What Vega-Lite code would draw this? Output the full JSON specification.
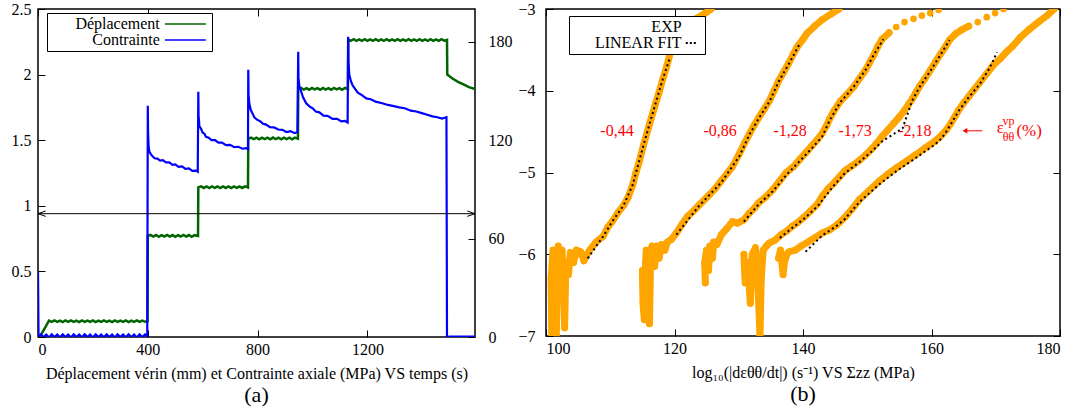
{
  "$schema": "https://vega.github.io/schema/vega-lite/v6.json",
  "padding": {"left": 10, "top": 0, "right": 5, "bottom": 0},
  "spacing": 4,
  "background": "white",
  "resolve": {"scale": {"color": "independent"}, "legend": {"color": "independent"}},
  "config": {
    "font": "Liberation Serif",
    "view": {"stroke": "black", "strokeWidth": 1.5},
    "axis": {
      "labelFont": "Liberation Serif", "labelFontSize": 16, "labelColor": "black",
      "titleFont": "Liberation Serif", "titleFontSize": 16, "titleFontWeight": "normal", "titleColor": "black",
      "domain": false, "grid": false, "tickColor": "black", "tickSize": -7, "tickWidth": 1, "labelPadding": 14
    },
    "axisBottom": {"labelPadding": 11},
    "axisTop": {"labelPadding": 11},
    "legend": {"labelFont": "Liberation Serif", "labelFontSize": 16, "labelColor": "black"},
    "title": {"font": "Liberation Serif", "fontSize": 22, "fontWeight": "normal", "color": "black", "orient": "bottom", "offset": 4}
  },
  "datasets": {
    "disp": [
      {"t":0,"d":0,"s":"Déplacement"},{"t":8,"d":0.005,"s":"Déplacement"},{"t":40,"d":0.125,"s":"Déplacement"},
      {"t":50,"d":0.116,"s":"Déplacement"},{"t":60,"d":0.126,"s":"Déplacement"},{"t":70,"d":0.115,"s":"Déplacement"},{"t":80,"d":0.125,"s":"Déplacement"},{"t":90,"d":0.114,"s":"Déplacement"},{"t":100,"d":0.126,"s":"Déplacement"},{"t":110,"d":0.116,"s":"Déplacement"},{"t":120,"d":0.127,"s":"Déplacement"},{"t":130,"d":0.115,"s":"Déplacement"},{"t":140,"d":0.125,"s":"Déplacement"},{"t":150,"d":0.114,"s":"Déplacement"},{"t":160,"d":0.126,"s":"Déplacement"},{"t":170,"d":0.116,"s":"Déplacement"},{"t":180,"d":0.125,"s":"Déplacement"},{"t":190,"d":0.115,"s":"Déplacement"},{"t":200,"d":0.127,"s":"Déplacement"},{"t":210,"d":0.114,"s":"Déplacement"},{"t":220,"d":0.125,"s":"Déplacement"},{"t":230,"d":0.116,"s":"Déplacement"},{"t":240,"d":0.126,"s":"Déplacement"},{"t":250,"d":0.115,"s":"Déplacement"},{"t":260,"d":0.125,"s":"Déplacement"},{"t":270,"d":0.114,"s":"Déplacement"},{"t":280,"d":0.127,"s":"Déplacement"},{"t":290,"d":0.116,"s":"Déplacement"},{"t":300,"d":0.125,"s":"Déplacement"},{"t":310,"d":0.115,"s":"Déplacement"},{"t":320,"d":0.126,"s":"Déplacement"},{"t":330,"d":0.114,"s":"Déplacement"},{"t":340,"d":0.125,"s":"Déplacement"},{"t":350,"d":0.116,"s":"Déplacement"},{"t":360,"d":0.127,"s":"Déplacement"},{"t":370,"d":0.115,"s":"Déplacement"},{"t":380,"d":0.125,"s":"Déplacement"},{"t":390,"d":0.116,"s":"Déplacement"},{"t":399,"d":0.12,"s":"Déplacement"},
      {"t":400,"d":0.77,"s":"Déplacement"},{"t":410,"d":0.778,"s":"Déplacement"},{"t":420,"d":0.765,"s":"Déplacement"},{"t":430,"d":0.777,"s":"Déplacement"},{"t":440,"d":0.764,"s":"Déplacement"},{"t":450,"d":0.776,"s":"Déplacement"},{"t":460,"d":0.766,"s":"Déplacement"},{"t":470,"d":0.778,"s":"Déplacement"},{"t":480,"d":0.765,"s":"Déplacement"},{"t":490,"d":0.777,"s":"Déplacement"},{"t":500,"d":0.764,"s":"Déplacement"},{"t":510,"d":0.776,"s":"Déplacement"},{"t":520,"d":0.766,"s":"Déplacement"},{"t":530,"d":0.778,"s":"Déplacement"},{"t":540,"d":0.765,"s":"Déplacement"},{"t":550,"d":0.777,"s":"Déplacement"},{"t":560,"d":0.764,"s":"Déplacement"},{"t":570,"d":0.776,"s":"Déplacement"},{"t":583,"d":0.77,"s":"Déplacement"},
      {"t":584,"d":1.14,"s":"Déplacement"},{"t":594,"d":1.148,"s":"Déplacement"},{"t":604,"d":1.136,"s":"Déplacement"},{"t":614,"d":1.147,"s":"Déplacement"},{"t":624,"d":1.135,"s":"Déplacement"},{"t":634,"d":1.148,"s":"Déplacement"},{"t":644,"d":1.137,"s":"Déplacement"},{"t":654,"d":1.147,"s":"Déplacement"},{"t":664,"d":1.135,"s":"Déplacement"},{"t":674,"d":1.148,"s":"Déplacement"},{"t":684,"d":1.136,"s":"Déplacement"},{"t":694,"d":1.147,"s":"Déplacement"},{"t":704,"d":1.135,"s":"Déplacement"},{"t":714,"d":1.148,"s":"Déplacement"},{"t":724,"d":1.137,"s":"Déplacement"},{"t":734,"d":1.147,"s":"Déplacement"},{"t":744,"d":1.136,"s":"Déplacement"},{"t":754,"d":1.148,"s":"Déplacement"},{"t":765,"d":1.14,"s":"Déplacement"},
      {"t":766,"d":1.512,"s":"Déplacement"},{"t":776,"d":1.52,"s":"Déplacement"},{"t":786,"d":1.508,"s":"Déplacement"},{"t":796,"d":1.519,"s":"Déplacement"},{"t":806,"d":1.507,"s":"Déplacement"},{"t":816,"d":1.52,"s":"Déplacement"},{"t":826,"d":1.509,"s":"Déplacement"},{"t":836,"d":1.519,"s":"Déplacement"},{"t":846,"d":1.507,"s":"Déplacement"},{"t":856,"d":1.52,"s":"Déplacement"},{"t":866,"d":1.508,"s":"Déplacement"},{"t":876,"d":1.519,"s":"Déplacement"},{"t":886,"d":1.507,"s":"Déplacement"},{"t":896,"d":1.52,"s":"Déplacement"},{"t":906,"d":1.509,"s":"Déplacement"},{"t":916,"d":1.519,"s":"Déplacement"},{"t":926,"d":1.507,"s":"Déplacement"},{"t":936,"d":1.52,"s":"Déplacement"},{"t":947,"d":1.512,"s":"Déplacement"},
      {"t":948,"d":1.89,"s":"Déplacement"},{"t":958,"d":1.898,"s":"Déplacement"},{"t":968,"d":1.886,"s":"Déplacement"},{"t":978,"d":1.897,"s":"Déplacement"},{"t":988,"d":1.885,"s":"Déplacement"},{"t":998,"d":1.898,"s":"Déplacement"},{"t":1008,"d":1.887,"s":"Déplacement"},{"t":1018,"d":1.897,"s":"Déplacement"},{"t":1028,"d":1.885,"s":"Déplacement"},{"t":1038,"d":1.898,"s":"Déplacement"},{"t":1048,"d":1.886,"s":"Déplacement"},{"t":1058,"d":1.897,"s":"Déplacement"},{"t":1068,"d":1.885,"s":"Déplacement"},{"t":1078,"d":1.898,"s":"Déplacement"},{"t":1088,"d":1.887,"s":"Déplacement"},{"t":1098,"d":1.897,"s":"Déplacement"},{"t":1108,"d":1.885,"s":"Déplacement"},{"t":1118,"d":1.898,"s":"Déplacement"},{"t":1129,"d":1.89,"s":"Déplacement"},
      {"t":1130,"d":2.265,"s":"Déplacement"},{"t":1140,"d":2.258,"s":"Déplacement"},{"t":1150,"d":2.27,"s":"Déplacement"},{"t":1160,"d":2.257,"s":"Déplacement"},{"t":1170,"d":2.269,"s":"Déplacement"},{"t":1180,"d":2.258,"s":"Déplacement"},{"t":1190,"d":2.27,"s":"Déplacement"},{"t":1200,"d":2.257,"s":"Déplacement"},{"t":1210,"d":2.269,"s":"Déplacement"},{"t":1220,"d":2.258,"s":"Déplacement"},{"t":1230,"d":2.27,"s":"Déplacement"},{"t":1240,"d":2.257,"s":"Déplacement"},{"t":1250,"d":2.269,"s":"Déplacement"},{"t":1260,"d":2.258,"s":"Déplacement"},{"t":1270,"d":2.27,"s":"Déplacement"},{"t":1280,"d":2.257,"s":"Déplacement"},{"t":1290,"d":2.269,"s":"Déplacement"},{"t":1300,"d":2.258,"s":"Déplacement"},{"t":1310,"d":2.27,"s":"Déplacement"},{"t":1320,"d":2.257,"s":"Déplacement"},{"t":1330,"d":2.269,"s":"Déplacement"},{"t":1340,"d":2.258,"s":"Déplacement"},{"t":1350,"d":2.27,"s":"Déplacement"},{"t":1360,"d":2.257,"s":"Déplacement"},{"t":1370,"d":2.269,"s":"Déplacement"},{"t":1380,"d":2.258,"s":"Déplacement"},{"t":1390,"d":2.27,"s":"Déplacement"},{"t":1400,"d":2.257,"s":"Déplacement"},{"t":1410,"d":2.269,"s":"Déplacement"},{"t":1420,"d":2.258,"s":"Déplacement"},{"t":1430,"d":2.27,"s":"Déplacement"},{"t":1440,"d":2.257,"s":"Déplacement"},{"t":1450,"d":2.269,"s":"Déplacement"},{"t":1460,"d":2.258,"s":"Déplacement"},{"t":1470,"d":2.27,"s":"Déplacement"},{"t":1480,"d":2.258,"s":"Déplacement"},{"t":1490,"d":2.264,"s":"Déplacement"},
      {"t":1491,"d":2.0,"s":"Déplacement"},{"t":1510,"d":1.97,"s":"Déplacement"},{"t":1530,"d":1.945,"s":"Déplacement"},{"t":1550,"d":1.925,"s":"Déplacement"},{"t":1570,"d":1.905,"s":"Déplacement"},{"t":1592,"d":1.89,"s":"Déplacement"}
    ],
    "cont": [
      {"t":0,"m":40,"s":"Contrainte"},{"t":2,"m":0.5,"s":"Contrainte"},{"t":10,"m":1.6,"s":"Contrainte"},{"t":20,"m":0,"s":"Contrainte"},{"t":30,"m":1.5,"s":"Contrainte"},{"t":40,"m":-0.3,"s":"Contrainte"},{"t":50,"m":1.6,"s":"Contrainte"},{"t":60,"m":0,"s":"Contrainte"},{"t":70,"m":1.5,"s":"Contrainte"},{"t":80,"m":-0.2,"s":"Contrainte"},{"t":90,"m":1.6,"s":"Contrainte"},{"t":100,"m":0,"s":"Contrainte"},{"t":110,"m":1.5,"s":"Contrainte"},{"t":120,"m":-0.3,"s":"Contrainte"},{"t":130,"m":1.6,"s":"Contrainte"},{"t":140,"m":0,"s":"Contrainte"},{"t":150,"m":1.5,"s":"Contrainte"},{"t":160,"m":-0.2,"s":"Contrainte"},{"t":170,"m":1.6,"s":"Contrainte"},{"t":180,"m":0,"s":"Contrainte"},{"t":190,"m":1.5,"s":"Contrainte"},{"t":200,"m":-0.3,"s":"Contrainte"},{"t":210,"m":1.6,"s":"Contrainte"},{"t":220,"m":0,"s":"Contrainte"},{"t":230,"m":1.5,"s":"Contrainte"},{"t":240,"m":-0.2,"s":"Contrainte"},{"t":250,"m":1.6,"s":"Contrainte"},{"t":260,"m":0,"s":"Contrainte"},{"t":270,"m":1.5,"s":"Contrainte"},{"t":280,"m":-0.3,"s":"Contrainte"},{"t":290,"m":1.6,"s":"Contrainte"},{"t":300,"m":0,"s":"Contrainte"},{"t":310,"m":1.5,"s":"Contrainte"},{"t":320,"m":-0.2,"s":"Contrainte"},{"t":330,"m":1.6,"s":"Contrainte"},{"t":340,"m":0,"s":"Contrainte"},{"t":350,"m":1.5,"s":"Contrainte"},{"t":360,"m":-0.3,"s":"Contrainte"},{"t":370,"m":1.6,"s":"Contrainte"},{"t":380,"m":0,"s":"Contrainte"},{"t":390,"m":1.5,"s":"Contrainte"},{"t":398,"m":0.5,"s":"Contrainte"},
      {"t":400,"m":141,"s":"Contrainte"},{"t":401,"m":125,"s":"Contrainte"},{"t":403,"m":116,"s":"Contrainte"},{"t":406,"m":113,"s":"Contrainte"},{"t":411,"m":111.5,"s":"Contrainte"},{"t":418,"m":110,"s":"Contrainte"},{"t":425,"m":109,"s":"Contrainte"},{"t":435,"m":108.8,"s":"Contrainte"},{"t":445,"m":107.5,"s":"Contrainte"},{"t":455,"m":107.8,"s":"Contrainte"},{"t":466,"m":106.5,"s":"Contrainte"},{"t":478,"m":106.5,"s":"Contrainte"},{"t":490,"m":105,"s":"Contrainte"},{"t":500,"m":105.3,"s":"Contrainte"},{"t":512,"m":103.8,"s":"Contrainte"},{"t":525,"m":104,"s":"Contrainte"},{"t":537,"m":102.5,"s":"Contrainte"},{"t":550,"m":102.8,"s":"Contrainte"},{"t":562,"m":101.3,"s":"Contrainte"},{"t":576,"m":101.5,"s":"Contrainte"},{"t":582,"m":100.8,"s":"Contrainte"},
      {"t":584,"m":149.6,"s":"Contrainte"},{"t":585,"m":135,"s":"Contrainte"},{"t":588,"m":128.5,"s":"Contrainte"},{"t":594,"m":127,"s":"Contrainte"},{"t":600,"m":124.5,"s":"Contrainte"},{"t":606,"m":124,"s":"Contrainte"},{"t":612,"m":122,"s":"Contrainte"},{"t":622,"m":121.5,"s":"Contrainte"},{"t":632,"m":120,"s":"Contrainte"},{"t":645,"m":120,"s":"Contrainte"},{"t":657,"m":118.5,"s":"Contrainte"},{"t":670,"m":118.6,"s":"Contrainte"},{"t":685,"m":117,"s":"Contrainte"},{"t":700,"m":117.2,"s":"Contrainte"},{"t":715,"m":115.8,"s":"Contrainte"},{"t":730,"m":116,"s":"Contrainte"},{"t":745,"m":114.8,"s":"Contrainte"},{"t":758,"m":115.2,"s":"Contrainte"},{"t":765,"m":114.5,"s":"Contrainte"},
      {"t":766,"m":163,"s":"Contrainte"},{"t":767,"m":148,"s":"Contrainte"},{"t":770,"m":142,"s":"Contrainte"},{"t":775,"m":138.5,"s":"Contrainte"},{"t":781,"m":136.5,"s":"Contrainte"},{"t":788,"m":134,"s":"Contrainte"},{"t":798,"m":132.5,"s":"Contrainte"},{"t":810,"m":131.5,"s":"Contrainte"},{"t":820,"m":130,"s":"Contrainte"},{"t":831,"m":129.5,"s":"Contrainte"},{"t":845,"m":128,"s":"Contrainte"},{"t":860,"m":127.8,"s":"Contrainte"},{"t":875,"m":126.5,"s":"Contrainte"},{"t":890,"m":126.3,"s":"Contrainte"},{"t":905,"m":125,"s":"Contrainte"},{"t":920,"m":125.5,"s":"Contrainte"},{"t":935,"m":124.3,"s":"Contrainte"},{"t":945,"m":125,"s":"Contrainte"},
      {"t":948,"m":174,"s":"Contrainte"},{"t":949,"m":158,"s":"Contrainte"},{"t":952,"m":153,"s":"Contrainte"},{"t":958,"m":150,"s":"Contrainte"},{"t":966,"m":146,"s":"Contrainte"},{"t":977,"m":142.5,"s":"Contrainte"},{"t":990,"m":140.5,"s":"Contrainte"},{"t":1000,"m":139.5,"s":"Contrainte"},{"t":1012,"m":137.5,"s":"Contrainte"},{"t":1025,"m":137,"s":"Contrainte"},{"t":1040,"m":135,"s":"Contrainte"},{"t":1055,"m":134.8,"s":"Contrainte"},{"t":1073,"m":133,"s":"Contrainte"},{"t":1090,"m":133,"s":"Contrainte"},{"t":1105,"m":131.5,"s":"Contrainte"},{"t":1118,"m":131.8,"s":"Contrainte"},{"t":1128,"m":130.8,"s":"Contrainte"},
      {"t":1130,"m":183,"s":"Contrainte"},{"t":1131,"m":168,"s":"Contrainte"},{"t":1134,"m":160,"s":"Contrainte"},{"t":1140,"m":156,"s":"Contrainte"},{"t":1146,"m":153.5,"s":"Contrainte"},{"t":1152,"m":152,"s":"Contrainte"},{"t":1165,"m":149,"s":"Contrainte"},{"t":1180,"m":147.5,"s":"Contrainte"},{"t":1196,"m":145.5,"s":"Contrainte"},{"t":1212,"m":145,"s":"Contrainte"},{"t":1230,"m":143.5,"s":"Contrainte"},{"t":1254,"m":142.5,"s":"Contrainte"},{"t":1275,"m":141.5,"s":"Contrainte"},{"t":1296,"m":140.8,"s":"Contrainte"},{"t":1316,"m":140,"s":"Contrainte"},{"t":1336,"m":139.5,"s":"Contrainte"},{"t":1358,"m":138,"s":"Contrainte"},{"t":1378,"m":137.5,"s":"Contrainte"},{"t":1398,"m":136.5,"s":"Contrainte"},{"t":1418,"m":135.5,"s":"Contrainte"},{"t":1437,"m":134.5,"s":"Contrainte"},{"t":1455,"m":134,"s":"Contrainte"},{"t":1472,"m":133.2,"s":"Contrainte"},{"t":1488,"m":134,"s":"Contrainte"},
      {"t":1490,"m":0,"s":"Contrainte"},{"t":1500,"m":0.3,"s":"Contrainte"},{"t":1592,"m":0.3,"s":"Contrainte"}
    ],
    "curves": [
      {"c":1,"i":1,"x":100.9,"y":-7.0},{"c":1,"i":2,"x":100.8,"y":-6.3},{"c":1,"i":3,"x":101.1,"y":-5.95},{"c":1,"i":4,"x":101.4,"y":-6.6},{"c":1,"i":5,"x":101.6,"y":-7.0},{"c":1,"i":6,"x":101.8,"y":-6.2},{"c":1,"i":7,"x":101.9,"y":-5.9},{"c":1,"i":8,"x":102.2,"y":-6.5},{"c":1,"i":9,"x":102.5,"y":-5.95},{"c":1,"i":10,"x":102.8,"y":-6.6},{"c":1,"i":11,"x":102.9,"y":-6.9},{"c":1,"i":12,"x":103.1,"y":-6.1},{"c":1,"i":13,"x":103.5,"y":-6.25},{"c":1,"i":14,"x":103.8,"y":-5.98},{"c":1,"i":15,"x":104.3,"y":-6.1},{"c":1,"i":16,"x":104.7,"y":-5.95},{"c":1,"i":17,"x":105.4,"y":-5.97},{"c":1,"i":18,"x":105.9,"y":-6.08},{"c":1,"i":19,"x":106.4,"y":-6.0},{"c":1,"i":20,"x":106.8,"y":-5.95},{"c":1,"i":21,"x":107.8,"y":-5.85},{"c":1,"i":22,"x":108.9,"y":-5.78},{"c":1,"i":23,"x":109.6,"y":-5.67},{"c":1,"i":24,"x":110.3,"y":-5.6},{"c":1,"i":25,"x":111.2,"y":-5.49},{"c":1,"i":26,"x":112.1,"y":-5.4},{"c":1,"i":27,"x":112.8,"y":-5.3},{"c":1,"i":28,"x":113.5,"y":-5.15},{"c":1,"i":29,"x":114.0,"y":-5.0},{"c":1,"i":30,"x":114.5,"y":-4.87},{"c":1,"i":31,"x":115.2,"y":-4.66},{"c":1,"i":32,"x":116.1,"y":-4.41},{"c":1,"i":33,"x":117.0,"y":-4.17},{"c":1,"i":34,"x":117.6,"y":-4.02},{"c":1,"i":35,"x":118.2,"y":-3.85},{"c":1,"i":36,"x":118.8,"y":-3.7},{"c":1,"i":37,"x":119.3,"y":-3.55},{"c":1,"i":38,"x":120.0,"y":-3.39},{"c":1,"i":39,"x":120.7,"y":-3.28},{"c":1,"i":40,"x":121.3,"y":-3.2},{"c":1,"i":41,"x":122.5,"y":-3.15},{"c":1,"i":42,"x":123.8,"y":-3.1},{"c":1,"i":43,"x":124.8,"y":-3.05},{"c":1,"i":44,"x":125.7,"y":-3.0},
      {"c":2,"i":1,"x":115.0,"y":-6.2},{"c":2,"i":2,"x":115.1,"y":-6.6},{"c":2,"i":3,"x":115.3,"y":-6.8},{"c":2,"i":4,"x":115.5,"y":-6.1},{"c":2,"i":5,"x":115.6,"y":-5.95},{"c":2,"i":6,"x":115.9,"y":-6.6},{"c":2,"i":7,"x":116.1,"y":-6.85},{"c":2,"i":8,"x":116.3,"y":-6.0},{"c":2,"i":9,"x":116.5,"y":-5.9},{"c":2,"i":10,"x":116.9,"y":-6.15},{"c":2,"i":11,"x":117.2,"y":-5.9},{"c":2,"i":12,"x":117.6,"y":-6.05},{"c":2,"i":13,"x":118.0,"y":-5.88},{"c":2,"i":14,"x":118.5,"y":-5.95},{"c":2,"i":15,"x":118.9,"y":-5.85},{"c":2,"i":16,"x":119.5,"y":-5.82},{"c":2,"i":17,"x":120.3,"y":-5.74},{"c":2,"i":18,"x":121.2,"y":-5.63},{"c":2,"i":19,"x":122.0,"y":-5.54},{"c":2,"i":20,"x":123.1,"y":-5.46},{"c":2,"i":21,"x":123.8,"y":-5.4},{"c":2,"i":22,"x":125.2,"y":-5.29},{"c":2,"i":23,"x":126.3,"y":-5.2},{"c":2,"i":24,"x":127.3,"y":-5.1},{"c":2,"i":25,"x":128.2,"y":-5.01},{"c":2,"i":26,"x":129.0,"y":-4.93},{"c":2,"i":27,"x":130.1,"y":-4.77},{"c":2,"i":28,"x":130.9,"y":-4.64},{"c":2,"i":29,"x":131.7,"y":-4.52},{"c":2,"i":30,"x":132.4,"y":-4.42},{"c":2,"i":31,"x":133.1,"y":-4.33},{"c":2,"i":32,"x":134.0,"y":-4.22},{"c":2,"i":33,"x":134.8,"y":-4.12},{"c":2,"i":34,"x":135.5,"y":-4.0},{"c":2,"i":35,"x":136.2,"y":-3.88},{"c":2,"i":36,"x":137.0,"y":-3.77},{"c":2,"i":37,"x":137.8,"y":-3.66},{"c":2,"i":38,"x":138.5,"y":-3.55},{"c":2,"i":39,"x":139.2,"y":-3.45},{"c":2,"i":40,"x":140.0,"y":-3.37},{"c":2,"i":41,"x":140.6,"y":-3.3},{"c":2,"i":42,"x":141.8,"y":-3.21},{"c":2,"i":43,"x":143.0,"y":-3.13},{"c":2,"i":44,"x":144.4,"y":-3.06},{"c":2,"i":45,"x":145.6,"y":-3.0},
      {"c":3,"i":1,"x":124.8,"y":-6.35},{"c":3,"i":2,"x":124.7,"y":-6.1},{"c":3,"i":3,"x":125.0,"y":-5.95},{"c":3,"i":4,"x":125.3,"y":-6.2},{"c":3,"i":5,"x":125.5,"y":-5.9},{"c":3,"i":6,"x":125.9,"y":-6.05},{"c":3,"i":7,"x":126.1,"y":-5.85},{"c":3,"i":8,"x":126.6,"y":-5.88},{"c":3,"i":9,"x":127.3,"y":-5.76},{"c":3,"i":10,"x":128.2,"y":-5.68},{"c":3,"i":11,"x":129.0,"y":-5.6},{"c":3,"i":12,"x":129.8,"y":-5.62},{"c":3,"i":13,"x":130.8,"y":-5.58},{"c":3,"i":14,"x":131.6,"y":-5.5},{"c":3,"i":15,"x":132.5,"y":-5.43},{"c":3,"i":16,"x":133.1,"y":-5.37},{"c":3,"i":17,"x":134.2,"y":-5.3},{"c":3,"i":18,"x":135.3,"y":-5.21},{"c":3,"i":19,"x":136.4,"y":-5.1},{"c":3,"i":20,"x":137.4,"y":-5.0},{"c":3,"i":21,"x":138.5,"y":-4.93},{"c":3,"i":22,"x":139.5,"y":-4.84},{"c":3,"i":23,"x":140.4,"y":-4.76},{"c":3,"i":24,"x":141.3,"y":-4.68},{"c":3,"i":25,"x":142.2,"y":-4.6},{"c":3,"i":26,"x":143.0,"y":-4.52},{"c":3,"i":27,"x":143.7,"y":-4.42},{"c":3,"i":28,"x":144.1,"y":-4.35},{"c":3,"i":29,"x":144.8,"y":-4.25},{"c":3,"i":30,"x":145.8,"y":-4.13},{"c":3,"i":31,"x":146.9,"y":-4.04},{"c":3,"i":32,"x":147.9,"y":-3.95},{"c":3,"i":33,"x":148.8,"y":-3.85},{"c":3,"i":34,"x":149.7,"y":-3.75},{"c":3,"i":35,"x":150.4,"y":-3.65},{"c":3,"i":36,"x":151.1,"y":-3.55},{"c":3,"i":37,"x":151.7,"y":-3.45},{"c":3,"i":38,"x":152.3,"y":-3.37},{"c":3,"i":39,"x":153.4,"y":-3.29},
      {"c":4,"i":1,"x":130.8,"y":-6.0},{"c":4,"i":2,"x":131.0,"y":-6.35},{"c":4,"i":3,"x":131.4,"y":-6.1},{"c":4,"i":4,"x":131.8,"y":-6.6},{"c":4,"i":5,"x":132.1,"y":-6.0},{"c":4,"i":6,"x":132.6,"y":-5.92},{"c":4,"i":7,"x":133.0,"y":-6.4},{"c":4,"i":8,"x":133.3,"y":-7.0},{"c":4,"i":9,"x":133.5,"y":-6.3},{"c":4,"i":10,"x":133.8,"y":-5.95},{"c":4,"i":11,"x":134.3,"y":-5.9},{"c":4,"i":12,"x":134.8,"y":-5.86},{"c":4,"i":13,"x":135.6,"y":-5.83},{"c":4,"i":14,"x":136.6,"y":-5.76},{"c":4,"i":15,"x":137.4,"y":-5.72},{"c":4,"i":16,"x":138.3,"y":-5.66},{"c":4,"i":17,"x":139.2,"y":-5.61},{"c":4,"i":18,"x":140.1,"y":-5.55},{"c":4,"i":19,"x":141.2,"y":-5.47},{"c":4,"i":20,"x":142.3,"y":-5.38},{"c":4,"i":21,"x":143.0,"y":-5.29},{"c":4,"i":22,"x":143.9,"y":-5.2},{"c":4,"i":23,"x":144.8,"y":-5.13},{"c":4,"i":24,"x":145.7,"y":-5.05},{"c":4,"i":25,"x":146.5,"y":-4.98},{"c":4,"i":26,"x":147.6,"y":-4.92},{"c":4,"i":27,"x":148.8,"y":-4.85},{"c":4,"i":28,"x":149.7,"y":-4.79},{"c":4,"i":29,"x":150.6,"y":-4.72},{"c":4,"i":30,"x":151.5,"y":-4.64},{"c":4,"i":31,"x":152.3,"y":-4.56},{"c":4,"i":32,"x":153.2,"y":-4.48},{"c":4,"i":33,"x":154.1,"y":-4.4},{"c":4,"i":34,"x":155.0,"y":-4.32},{"c":4,"i":35,"x":155.8,"y":-4.24},{"c":4,"i":36,"x":156.4,"y":-4.17},{"c":4,"i":37,"x":157.0,"y":-4.1},{"c":4,"i":38,"x":157.6,"y":-4.02},{"c":4,"i":39,"x":158.1,"y":-3.95},{"c":4,"i":40,"x":158.9,"y":-3.86},{"c":4,"i":41,"x":159.8,"y":-3.75},{"c":4,"i":42,"x":160.6,"y":-3.65},{"c":4,"i":43,"x":161.4,"y":-3.55},{"c":4,"i":44,"x":162.1,"y":-3.47},{"c":4,"i":45,"x":162.8,"y":-3.38},{"c":4,"i":46,"x":163.8,"y":-3.3},{"c":4,"i":47,"x":164.8,"y":-3.25},{"c":4,"i":48,"x":165.8,"y":-3.21},
      {"c":5,"i":1,"x":136.2,"y":-6.05},{"c":5,"i":2,"x":136.5,"y":-5.95},{"c":5,"i":3,"x":136.9,"y":-6.25},{"c":5,"i":4,"x":137.1,"y":-6.1},{"c":5,"i":5,"x":137.5,"y":-6.0},{"c":5,"i":6,"x":137.8,"y":-5.97},{"c":5,"i":7,"x":138.8,"y":-5.95},{"c":5,"i":8,"x":139.7,"y":-5.9},{"c":5,"i":9,"x":140.6,"y":-5.86},{"c":5,"i":10,"x":141.8,"y":-5.8},{"c":5,"i":11,"x":143.0,"y":-5.74},{"c":5,"i":12,"x":144.2,"y":-5.7},{"c":5,"i":13,"x":145.3,"y":-5.64},{"c":5,"i":14,"x":146.5,"y":-5.55},{"c":5,"i":15,"x":147.6,"y":-5.45},{"c":5,"i":16,"x":148.8,"y":-5.33},{"c":5,"i":17,"x":150.3,"y":-5.22},{"c":5,"i":18,"x":151.8,"y":-5.11},{"c":5,"i":19,"x":153.2,"y":-5.02},{"c":5,"i":20,"x":154.6,"y":-4.94},{"c":5,"i":21,"x":156.1,"y":-4.86},{"c":5,"i":22,"x":157.6,"y":-4.78},{"c":5,"i":23,"x":159.0,"y":-4.7},{"c":5,"i":24,"x":160.5,"y":-4.62},{"c":5,"i":25,"x":161.5,"y":-4.55},{"c":5,"i":26,"x":162.3,"y":-4.48},{"c":5,"i":27,"x":163.0,"y":-4.4},{"c":5,"i":28,"x":163.6,"y":-4.32},{"c":5,"i":29,"x":164.2,"y":-4.24},{"c":5,"i":30,"x":165.0,"y":-4.15},{"c":5,"i":31,"x":165.8,"y":-4.07},{"c":5,"i":32,"x":166.6,"y":-3.99},{"c":5,"i":33,"x":167.5,"y":-3.9},{"c":5,"i":34,"x":168.6,"y":-3.79},{"c":5,"i":35,"x":169.8,"y":-3.67},{"c":5,"i":36,"x":170.8,"y":-3.6},{"c":5,"i":37,"x":171.6,"y":-3.53},{"c":5,"i":38,"x":172.7,"y":-3.45},{"c":5,"i":39,"x":173.8,"y":-3.35},{"c":5,"i":40,"x":175.2,"y":-3.25},{"c":5,"i":41,"x":176.8,"y":-3.15},{"c":5,"i":42,"x":178.0,"y":-3.08},{"c":5,"i":43,"x":179.1,"y":-3.0}
    ],
    "tails": [
      {"x":154.5,"y":-3.22},{"x":155.8,"y":-3.16},{"x":157.2,"y":-3.12},{"x":158.5,"y":-3.08},{"x":159.8,"y":-3.05},{"x":161.1,"y":-3.01},
      {"x":167.2,"y":-3.16},{"x":168.6,"y":-3.1},{"x":169.9,"y":-3.05},{"x":171.2,"y":-3.0}
    ],
    "fits": [
      {"f":1,"i":1,"x":106.5,"y":-6.05,"k":"LINEAR FIT"},{"f":1,"i":2,"x":108.9,"y":-5.78,"k":"LINEAR FIT"},{"f":1,"i":3,"x":110.3,"y":-5.6,"k":"LINEAR FIT"},{"f":1,"i":4,"x":112.1,"y":-5.4,"k":"LINEAR FIT"},{"f":1,"i":5,"x":113.5,"y":-5.15,"k":"LINEAR FIT"},{"f":1,"i":6,"x":115.2,"y":-4.66,"k":"LINEAR FIT"},{"f":1,"i":7,"x":116.1,"y":-4.41,"k":"LINEAR FIT"},{"f":1,"i":8,"x":117.0,"y":-4.17,"k":"LINEAR FIT"},{"f":1,"i":9,"x":118.2,"y":-3.85,"k":"LINEAR FIT"},{"f":1,"i":10,"x":119.2,"y":-3.62,"k":"LINEAR FIT"},
      {"f":2,"i":1,"x":120.3,"y":-5.76,"k":"LINEAR FIT"},{"f":2,"i":2,"x":123.8,"y":-5.41,"k":"LINEAR FIT"},{"f":2,"i":3,"x":127.3,"y":-5.12,"k":"LINEAR FIT"},{"f":2,"i":4,"x":130.1,"y":-4.8,"k":"LINEAR FIT"},{"f":2,"i":5,"x":131.7,"y":-4.53,"k":"LINEAR FIT"},{"f":2,"i":6,"x":133.1,"y":-4.34,"k":"LINEAR FIT"},{"f":2,"i":7,"x":134.8,"y":-4.13,"k":"LINEAR FIT"},{"f":2,"i":8,"x":136.2,"y":-3.89,"k":"LINEAR FIT"},{"f":2,"i":9,"x":137.8,"y":-3.67,"k":"LINEAR FIT"},{"f":2,"i":10,"x":139.4,"y":-3.44,"k":"LINEAR FIT"},
      {"f":3,"i":1,"x":130.8,"y":-5.6,"k":"LINEAR FIT"},{"f":3,"i":2,"x":133.1,"y":-5.39,"k":"LINEAR FIT"},{"f":3,"i":3,"x":135.3,"y":-5.23,"k":"LINEAR FIT"},{"f":3,"i":4,"x":137.4,"y":-5.03,"k":"LINEAR FIT"},{"f":3,"i":5,"x":139.5,"y":-4.86,"k":"LINEAR FIT"},{"f":3,"i":6,"x":141.3,"y":-4.71,"k":"LINEAR FIT"},{"f":3,"i":7,"x":143.0,"y":-4.56,"k":"LINEAR FIT"},{"f":3,"i":8,"x":144.1,"y":-4.37,"k":"LINEAR FIT"},{"f":3,"i":9,"x":145.8,"y":-4.14,"k":"LINEAR FIT"},{"f":3,"i":10,"x":147.9,"y":-3.95,"k":"LINEAR FIT"},{"f":3,"i":11,"x":149.7,"y":-3.75,"k":"LINEAR FIT"},{"f":3,"i":12,"x":151.1,"y":-3.55,"k":"LINEAR FIT"},{"f":3,"i":13,"x":152.5,"y":-3.37,"k":"LINEAR FIT"},
      {"f":4,"i":1,"x":136.4,"y":-5.8,"k":"LINEAR FIT"},{"f":4,"i":2,"x":138.3,"y":-5.68,"k":"LINEAR FIT"},{"f":4,"i":3,"x":140.1,"y":-5.57,"k":"LINEAR FIT"},{"f":4,"i":4,"x":142.3,"y":-5.41,"k":"LINEAR FIT"},{"f":4,"i":5,"x":144.8,"y":-5.16,"k":"LINEAR FIT"},{"f":4,"i":6,"x":146.5,"y":-5.01,"k":"LINEAR FIT"},{"f":4,"i":7,"x":148.8,"y":-4.87,"k":"LINEAR FIT"},{"f":4,"i":8,"x":150.6,"y":-4.75,"k":"LINEAR FIT"},{"f":4,"i":9,"x":152.3,"y":-4.62,"k":"LINEAR FIT"},{"f":4,"i":10,"x":154.1,"y":-4.53,"k":"LINEAR FIT"},{"f":4,"i":11,"x":155.5,"y":-4.46,"k":"LINEAR FIT"},{"f":4,"i":12,"x":157.0,"y":-4.12,"k":"LINEAR FIT"},{"f":4,"i":13,"x":158.1,"y":-3.96,"k":"LINEAR FIT"},{"f":4,"i":14,"x":159.8,"y":-3.76,"k":"LINEAR FIT"},{"f":4,"i":15,"x":161.4,"y":-3.56,"k":"LINEAR FIT"},{"f":4,"i":16,"x":162.8,"y":-3.38,"k":"LINEAR FIT"},
      {"f":5,"i":1,"x":140.4,"y":-5.97,"k":"LINEAR FIT"},{"f":5,"i":2,"x":143.0,"y":-5.77,"k":"LINEAR FIT"},{"f":5,"i":3,"x":145.3,"y":-5.65,"k":"LINEAR FIT"},{"f":5,"i":4,"x":146.5,"y":-5.57,"k":"LINEAR FIT"},{"f":5,"i":5,"x":148.8,"y":-5.36,"k":"LINEAR FIT"},{"f":5,"i":6,"x":151.8,"y":-5.15,"k":"LINEAR FIT"},{"f":5,"i":7,"x":154.6,"y":-4.98,"k":"LINEAR FIT"},{"f":5,"i":8,"x":157.6,"y":-4.82,"k":"LINEAR FIT"},{"f":5,"i":9,"x":160.5,"y":-4.66,"k":"LINEAR FIT"},{"f":5,"i":10,"x":161.5,"y":-4.59,"k":"LINEAR FIT"},{"f":5,"i":11,"x":162.3,"y":-4.5,"k":"LINEAR FIT"},{"f":5,"i":12,"x":163.3,"y":-4.37,"k":"LINEAR FIT"},{"f":5,"i":13,"x":164.2,"y":-4.25,"k":"LINEAR FIT"},{"f":5,"i":14,"x":165.8,"y":-4.08,"k":"LINEAR FIT"},{"f":5,"i":15,"x":167.5,"y":-3.92,"k":"LINEAR FIT"},{"f":5,"i":16,"x":169.0,"y":-3.73,"k":"LINEAR FIT"},{"f":5,"i":17,"x":170.2,"y":-3.53,"k":"LINEAR FIT"}
    ]
  },
  "hconcat": [
    {
      "width": 437,
      "height": 328,
      "title": {"text": "(a)"},
      "layer": [
        {
          "data": {"name": "disp"},
          "mark": {"type": "line", "strokeWidth": 2.5, "clip": true},
          "encoding": {
            "x": {"field": "t", "type": "quantitative", "scale": {"domain": [0, 1592], "nice": false},
                  "axis": {"values": [0, 400, 800, 1200], "format": "d", "title": "Déplacement vérin (mm) et Contrainte axiale (MPa) VS temps (s)", "titlePadding": 8}},
            "y": {"field": "d", "type": "quantitative", "scale": {"domain": [0, 2.5], "nice": false},
                  "axis": {"values": [0, 0.5, 1, 1.5, 2, 2.5], "format": "~g", "title": null, "labelPadding": 14}},
            "color": {"field": "s", "type": "nominal",
                      "scale": {"domain": ["Déplacement", "Contrainte"], "range": ["#006400", "#0000ff"]},
                      "legend": {"title": null, "orient": "none", "legendX": 9, "legendY": 4, "symbolType": "M-5,0L5,0", "symbolSize": 67, "symbolStrokeWidth": 1.3, "rowPadding": -4, "labelAlign": "right", "labelOffset": -33.6, "symbolOffset": 127.4, "fillColor": "white", "strokeColor": "black", "padding": 3}}
          }
        },
        {
          "data": {"name": "cont"},
          "mark": {"type": "line", "strokeWidth": 2.2, "clip": true},
          "encoding": {
            "x": {"field": "t", "type": "quantitative", "axis": null},
            "y": {"field": "m", "type": "quantitative", "scale": {"domain": [0, 200], "nice": false},
                  "axis": {"orient": "right", "values": [0, 60, 120, 180], "title": null, "labelPadding": 20}},
            "color": {"field": "s", "type": "nominal"}
          }
        },
        {
          "data": {"values": [{"a": 0, "b": 1592, "y": 0.94}]},
          "mark": {"type": "rule", "color": "black", "strokeWidth": 1},
          "encoding": {
            "x": {"field": "a", "type": "quantitative", "axis": {"orient": "top", "labels": false, "title": null, "values": [0, 400, 800, 1200]}},
            "x2": {"field": "b"},
            "y": {"field": "y", "type": "quantitative", "scale": {"domain": [0, 2.5], "nice": false}, "axis": null}
          }
        },
        {
          "data": {"values": [{"x": 0, "y": 0.94}]},
          "mark": {"type": "point", "shape": "M0,0L2,-0.7M0,0L2,0.7", "size": 60, "stroke": "black", "strokeWidth": 1, "filled": false, "opacity": 1},
          "encoding": {
            "x": {"field": "x", "type": "quantitative", "axis": null},
            "y": {"field": "y", "type": "quantitative", "scale": {"domain": [0, 2.5], "nice": false}, "axis": null}
          }
        },
        {
          "data": {"values": [{"x": 1592, "y": 0.94}]},
          "mark": {"type": "point", "shape": "M0,0L-2,-0.7M0,0L-2,0.7", "size": 60, "stroke": "black", "strokeWidth": 1, "filled": false, "opacity": 1},
          "encoding": {
            "x": {"field": "x", "type": "quantitative", "axis": null},
            "y": {"field": "y", "type": "quantitative", "scale": {"domain": [0, 2.5], "nice": false}, "axis": null}
          }
        }
      ],
      "resolve": {"scale": {"y": "independent"}, "axis": {"x": "independent"}}
    },
    {
      "width": 514,
      "height": 327,
      "title": {"text": "(b)"},
      "layer": [
        {
          "data": {"name": "curves"},
          "mark": {"type": "line", "color": "#ffa500", "strokeWidth": 7, "strokeCap": "round", "strokeJoin": "round", "clip": true},
          "encoding": {
            "x": {"field": "x", "type": "quantitative", "scale": {"domain": [100, 180], "nice": false},
                  "axis": {"values": [100, 120, 140, 160, 180], "title": "log₁₀(|dεθθ/dt|) (s⁻¹) VS Σzz (MPa)", "titlePadding": 8}},
            "y": {"field": "y", "type": "quantitative", "scale": {"domain": [-7, -3], "nice": false},
                  "axis": {"values": [-7, -6, -5, -4, -3], "title": null, "labelPadding": 18}},
            "detail": {"field": "c", "type": "nominal"},
            "order": {"field": "i", "type": "quantitative"}
          }
        },
        {
          "data": {"name": "curves"},
          "mark": {"type": "point", "filled": true, "color": "#ffa500", "size": 45, "opacity": 1, "clip": true},
          "encoding": {
            "x": {"field": "x", "type": "quantitative", "axis": null},
            "y": {"field": "y", "type": "quantitative", "axis": null}
          }
        },
        {
          "data": {"name": "tails"},
          "mark": {"type": "point", "filled": true, "color": "#ffa500", "size": 45, "opacity": 1, "clip": true},
          "encoding": {
            "x": {"field": "x", "type": "quantitative", "axis": null},
            "y": {"field": "y", "type": "quantitative", "axis": null}
          }
        },
        {
          "data": {"name": "fits"},
          "mark": {"type": "line", "strokeWidth": 2, "strokeDash": [2, 3], "clip": true},
          "encoding": {
            "x": {"field": "x", "type": "quantitative", "axis": {"orient": "top", "labels": false, "title": null, "values": [100, 120, 140, 160, 180]}},
            "y": {"field": "y", "type": "quantitative", "axis": {"orient": "right", "labels": false, "title": null, "values": [-7, -6, -5, -4, -3]}},
            "detail": {"field": "f", "type": "nominal"},
            "order": {"field": "i", "type": "quantitative"},
            "color": {"field": "k", "type": "nominal",
                      "scale": {"domain": ["EXP", "LINEAR FIT"], "range": ["rgba(255,255,255,0)", "black"]},
                      "legend": {"title": null, "orient": "none", "legendX": 23, "legendY": 7, "symbolType": "M-5,0L5,0", "symbolSize": 5.76, "symbolStrokeWidth": 2, "symbolDash": [2, 2], "rowPadding": -4, "labelAlign": "right", "labelOffset": -18.2, "symbolOffset": 111.8, "fillColor": "white", "strokeColor": "black", "padding": 3}}
          }
        },
        {
          "data": {"values": [{"x": 111.05, "y": -4.49, "t": "-0,44"}, {"x": 127.1, "y": -4.49, "t": "-0,86"}, {"x": 138.0, "y": -4.49, "t": "-1,28"}, {"x": 148.1, "y": -4.49, "t": "-1,73"}, {"x": 157.4, "y": -4.49, "t": "-2,18"}]},
          "mark": {"type": "text", "color": "#ff0000", "fontSize": 16, "font": "Liberation Serif", "align": "center", "baseline": "middle"},
          "encoding": {
            "x": {"field": "x", "type": "quantitative", "axis": null},
            "y": {"field": "y", "type": "quantitative", "axis": null},
            "text": {"field": "t"}
          }
        },
        {
          "data": {"values": [{"a": 167.9, "b": 165.3, "y": -4.49}]},
          "mark": {"type": "rule", "color": "#ff0000", "strokeWidth": 1},
          "encoding": {
            "x": {"field": "a", "type": "quantitative", "axis": null},
            "x2": {"field": "b"},
            "y": {"field": "y", "type": "quantitative", "axis": null}
          }
        },
        {
          "data": {"values": [{"x": 165.2, "y": -4.49}]},
          "mark": {"type": "point", "shape": "triangle-left", "size": 30, "color": "#ff0000", "filled": true, "opacity": 1},
          "encoding": {
            "x": {"field": "x", "type": "quantitative", "axis": null},
            "y": {"field": "y", "type": "quantitative", "axis": null}
          }
        },
        {
          "data": {"values": [{"x": 170.7, "y": -4.46, "t": "ε"}, {"x": 175.2, "y": -4.49, "t": "(%)"}]},
          "mark": {"type": "text", "color": "#ff0000", "fontSize": 17, "font": "Liberation Serif", "align": "center", "baseline": "middle"},
          "encoding": {
            "x": {"field": "x", "type": "quantitative", "axis": null},
            "y": {"field": "y", "type": "quantitative", "axis": null},
            "text": {"field": "t"}
          }
        },
        {
          "data": {"values": [{"x": 172.0, "y": -4.56, "t": "θθ"}, {"x": 172.0, "y": -4.37, "t": "vp"}]},
          "mark": {"type": "text", "color": "#ff0000", "fontSize": 12, "font": "Liberation Serif", "align": "center", "baseline": "middle"},
          "encoding": {
            "x": {"field": "x", "type": "quantitative", "axis": null},
            "y": {"field": "y", "type": "quantitative", "axis": null},
            "text": {"field": "t"}
          }
        }
      ],
      "resolve": {"axis": {"x": "independent", "y": "independent"}}
    }
  ]
}
